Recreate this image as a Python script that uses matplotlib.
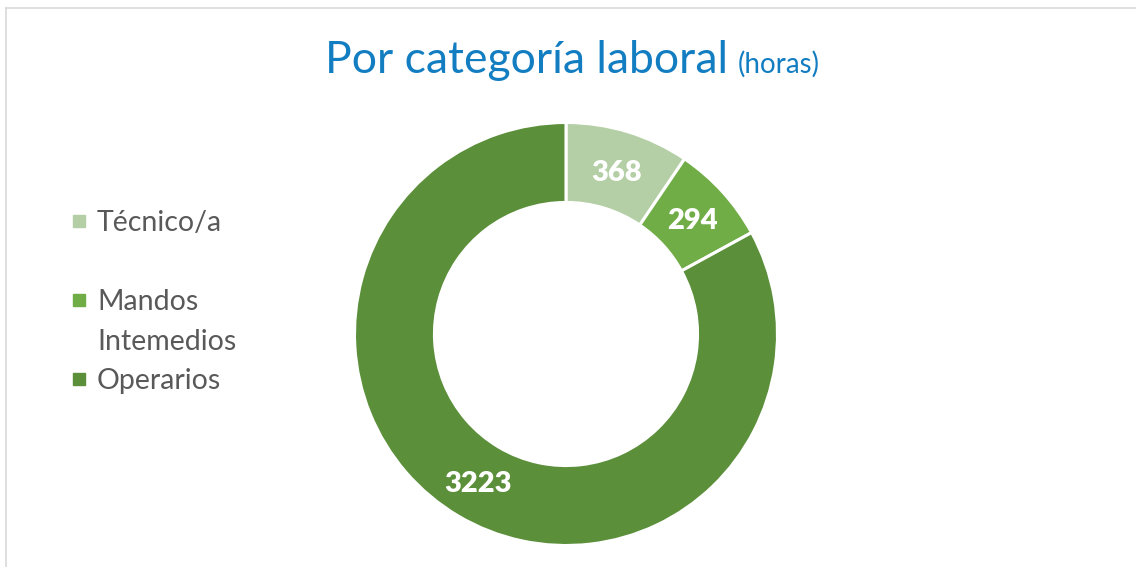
import matplotlib
matplotlib.use("Agg")
import matplotlib.pyplot as plt
import numpy as np
from matplotlib.lines import Line2D
from matplotlib.patches import Rectangle

# data
categories = ["Técnico/a", "Mandos\nIntemedios", "Operarios"]
hours = [368, 294, 3223]
colors = ["#B4CFA5", "#70AD47", "#5B8F3A"]

TITLE = "Por categoría laboral"
SUBTITLE = "(horas)"
FONT = "Lato"

W, H = 1136, 567
fig = plt.figure(figsize=(W / 100, H / 100), dpi=100)
fig.patch.set_facecolor("white")

# donut: centre (566, 334) px, outer radius 211.5 px
cx, cy, r = 566, 334, 211.5
RING = 0.378
ax = fig.add_axes([(cx - r) / W, (H - cy - r) / H, 2 * r / W, 2 * r / H])
wedges, _ = ax.pie(hours, colors=colors, startangle=90, counterclock=False,
                   radius=1.0,
                   wedgeprops=dict(width=RING, edgecolor="white", linewidth=2.2))
ax.set_xlim(-1, 1)
ax.set_ylim(-1, 1)
ax.set_aspect("equal")
ax.axis("off")

# value labels at mid ring radius
total = sum(hours)
start = 90.0
for v in hours:
    sweep = 360.0 * v / total
    mid = np.deg2rad(start - sweep / 2)
    rr = 1 - RING / 2
    ax.text(rr * np.cos(mid), rr * np.sin(mid), f"{v}", ha="center",
            va="center_baseline", color="white", fontsize=21,
            fontweight="heavy", family=FONT)
    start -= sweep

# title
t1 = fig.text(325 / W, 1 - 73 / H, TITLE, ha="left", va="baseline",
              color="#127DC1", fontsize=32, family=FONT)
fig.canvas.draw()
bb = t1.get_window_extent()
fig.text((bb.x1 + 10) / W, 1 - 73 / H, SUBTITLE, ha="left", va="baseline",
         color="#127DC1", fontsize=20, family=FONT)

# legend drawn by hand (Excel style: marker aligned to first line)
leg_y = [221, 300, 379]
line_gap = 39
for lab, col, y in zip(categories, colors, leg_y):
    fig.patches.append(Rectangle((73 / W, 1 - (y + 6) / H), 12 / W, 12 / H,
                                 transform=fig.transFigure, color=col, figure=fig))
    for i, part in enumerate(lab.split("\n")):
        fig.text(97 / W, 1 - (y + i * line_gap) / H, part, ha="left",
                 va="center_baseline", color="#595959", fontsize=20.5, family=FONT)

# chart border, only top and left visible
fig.add_artist(Line2D([5.5 / W, 1], [1 - 7.5 / H, 1 - 7.5 / H],
                      transform=fig.transFigure, color="#D9D9D9", lw=1.2))
fig.add_artist(Line2D([5.5 / W, 5.5 / W], [0, 1 - 7.5 / H],
                      transform=fig.transFigure, color="#D9D9D9", lw=1.2))

fig.savefig("out.png", dpi=100, facecolor="white")
